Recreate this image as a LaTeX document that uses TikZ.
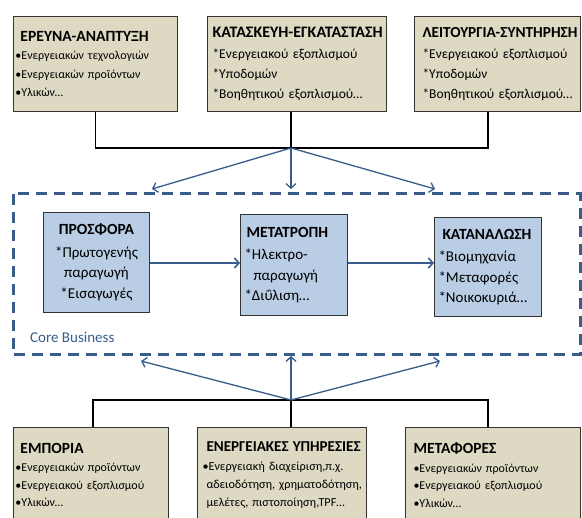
\documentclass[tikz,border=0pt]{standalone}
\usepackage{fontspec}
\setmainfont{Carlito}
\usetikzlibrary{arrows.meta}
\definecolor{tanfill}{RGB}{221,217,195}
\definecolor{bluefill}{RGB}{185,205,229}
\definecolor{coreblue}{RGB}{56,93,138}
\tikzset{
  outbox/.style={draw=black!80, line width=1pt, fill=tanfill, anchor=north west,
    align=left, inner xsep=5pt, inner ysep=0pt, text width=#1},
  inbox/.style={draw=black!80, line width=1pt, fill=bluefill, anchor=north west,
    inner xsep=4pt, inner ysep=0pt, text width=#1},
  bus/.style={draw=black, line width=1.3pt},
  flow/.style={draw=coreblue, line width=1.6pt, -{Straight Barb[length=4.5pt,width=10pt,line width=1.6pt]}},
  feed/.style={draw=coreblue, line width=1.3pt, -{Straight Barb[length=4.5pt,width=10pt,line width=1.3pt]}},
}
\newcommand{\bstar}{*}
% titles: inner boxes keep their width, outer ones may run into the margin
\newcommand{\hd}[1]{{\fontsize{15.5}{18}\selectfont\bfseries #1}}
\newcommand{\hdo}[2][15.5]{\makebox[0pt][l]{\fontsize{#1}{18}\selectfont\bfseries #2}}
\begin{document}
\begin{tikzpicture}[x=1pt,y=-1pt]
  \useasboundingbox[fill=white] (0,0) rectangle (582,518);
  % upper row
  \node[outbox=160pt, inner xsep=2pt, minimum height=95pt, font=\fontsize{12}{18.5}\selectfont] (rd) at (13,16)
    {\hspace*{5pt}\hdo[15.6]{ΕΡΕΥΝΑ-ΑΝΑΠΤΥΞΗ}\\
     •Ενεργειακών τεχνολογιών\\ •Ενεργειακών προϊόντων\\ •Υλικών…};
  \node[outbox=169pt, minimum height=95pt, font=\fontsize{13.5}{20}\selectfont] (kat) at (207,16)
    {\hdo[16]{ΚΑΤΑΣΚΕΥΗ-ΕΓΚΑΤΑΣΤΑΣΗ}\\[1pt]
     \bstar Ενεργειακού εξοπλισμού\\ \bstar Υποδομών\\ \bstar Βοηθητικού εξοπλισμού…};
  \node[outbox=156pt, minimum height=95pt, font=\fontsize{13.5}{20}\selectfont] (leit) at (414,16)
    {\hspace*{3pt}\hdo[15.3]{ΛΕΙΤΟΥΡΓΙΑ-ΣΥΝΤΗΡΗΣΗ}\\[1pt]
     \hspace*{3pt}\bstar Ενεργειακού εξοπλισμού\\ \hspace*{3pt}\bstar Υποδομών\\ \hspace*{3pt}\bstar Βοηθητικού εξοπλισμού…};
  % core business
  \draw[coreblue, line width=3pt, dash pattern=on 11pt off 7pt] (13,194) rectangle (580,355);
  \node[coreblue, font=\fontsize{15}{17}\selectfont, anchor=west, inner sep=0pt] (core) at (30,337) {Core Business};
  \node[inbox=98pt, minimum height=100pt, align=center, font=\fontsize{15}{20.5}\selectfont] (prosf) at (43,212)
    {\hd{ΠΡΟΣΦΟΡΑ}\\[2pt]
     \bstar Πρωτογενής\\ παραγωγή\\ \bstar Εισαγωγές};
  \node[inbox=99pt, minimum height=101pt, align=left, font=\fontsize{15}{20.5}\selectfont] (metatr) at (240,214)
    {\hd{\hspace*{2pt}ΜΕΤΑΤΡΟΠΗ}\\[2pt]
     \bstar Ηλεκτρο-\\ \hspace*{9pt}παραγωγή\\ \bstar Διΰλιση…};
  \node[inbox=99pt, minimum height=99pt, align=left, font=\fontsize{15}{20.5}\selectfont] (katan) at (434,217)
    {\hd{\hspace*{4pt}ΚΑΤΑΝΑΛΩΣΗ}\\[2pt]
     \bstar Βιομηχανία\\ \bstar Μεταφορές\\ \bstar Νοικοκυριά…};
  \draw[flow] (prosf.east |- 0,263) -- (metatr.west |- 0,263);
  \draw[flow] (metatr.east |- 0,263) -- (katan.west |- 0,263);
  % lower row
  \node[outbox=151pt, inner xsep=2pt, minimum height=95pt, font=\fontsize{12}{17.5}\selectfont] (emp) at (13,427)
    {\hspace*{5pt}\hdo{ΕΜΠΟΡΙΑ}\\[1pt]
     •Ενεργειακών προϊόντων\\ •Ενεργειακού εξοπλισμού\\ •Υλικών…};
  \node[outbox=159pt, minimum height=95pt, font=\fontsize{12.2}{18}\selectfont] (yphr) at (197,427)
    {\hspace*{4pt}\hdo[15.1]{ΕΝΕΡΓΕΙΑΚΕΣ ΥΠΗΡΕΣΙΕΣ}\\[1pt]
     \makebox[0pt][l]{•Ενεργειακή διαχείριση,π.χ.}\\
     \hspace*{4pt}\makebox[0pt][l]{αδειοδότηση, χρηματοδότηση,}\\
     \hspace*{4pt}\makebox[0pt][l]{μελέτες, πιστοποίηση,TPF…}};
  \node[outbox=165pt, minimum height=95pt, font=\fontsize{12}{17.5}\selectfont] (metaf) at (405,427)
    {\hspace*{3pt}\hdo{ΜΕΤΑΦΟΡΕΣ}\\[1pt]
     \hspace*{3pt}•Ενεργειακών προϊόντων\\ \hspace*{3pt}•Ενεργειακού εξοπλισμού\\ \hspace*{3pt}•Υλικών…};
  % connectors
  \coordinate (topjoin) at (291,148);
  \coordinate (botjoin) at (291,400);
  \draw[bus] (rd.south) |- (topjoin);
  \draw[bus] (leit.south -| 488,0) |- (topjoin);
  \draw[bus] (kat.south -| topjoin) -- (topjoin);
  \draw[bus] (emp.north -| 93,0) |- (botjoin);
  \draw[bus] (metaf.north -| 488,0) |- (botjoin);
  \draw[bus] (yphr.north -| botjoin) -- (botjoin);
  \coordinate (t1) at (152,189);
  \coordinate (t2) at (291,189);
  \coordinate (t3) at (435,189);
  \coordinate (b1) at (141,361);
  \coordinate (b2) at (291,356);
  \coordinate (b3) at (440,361);
  \foreach \p in {t1,t2,t3} \draw[feed] (topjoin) -- (\p);
  \foreach \p in {b1,b2,b3} \draw[feed] (botjoin) -- (\p);
\end{tikzpicture}
\end{document}
